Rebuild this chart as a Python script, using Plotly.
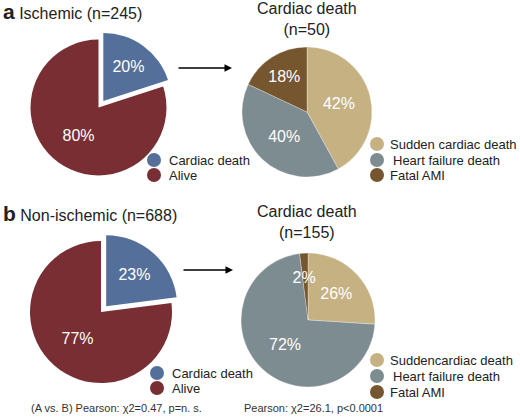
import plotly.graph_objects as go

W, H = 520, 420

# ---------------- data ----------------
outcome_labels = ["Cardiac death", "Alive"]
ischemic_values = [20, 80]
nonischemic_values = [23, 77]

cause_labels_a = ["Sudden cardiac death", "Heart failure death", "Fatal AMI"]
cause_labels_b = ["Suddencardiac death", "Heart failure death", "Fatal AMI"]
ischemic_cause_values = [42, 40, 18]
nonischemic_cause_values = [26, 72, 2]

outcome_colors = ["#546f99", "#782e33"]
cause_colors = ["#c6b183", "#7d8c90", "#75562f"]

panel_titles = ["Ischemic (n=245)", "Non-ischemic (n=688)"]
panel_letters = ["a", "b"]
cause_titles = ["Cardiac death<br>(n=50)", "Cardiac death<br>(n=155)"]
footers = ["(A vs. B) Pearson: χ2=0.47, p=n. s.", "Pearson: χ2=26.1, p&lt;0.0001"]

FONT = "Liberation Sans, Arial, sans-serif"


def px(x):
    return x / W


def py(y):
    return 1 - y / H


def dom(cx, cy, r, pull):
    h = r * (1 + pull)
    return dict(x=[px(cx - h), px(cx + h)], y=[py(cy + h), py(cy - h)])


fig = go.Figure()

pie_common = dict(
    sort=False,
    direction="clockwise",
    rotation=0,
    textposition="inside",
    insidetextorientation="horizontal",
    textfont=dict(color="white", size=16, family=FONT),
    showlegend=False,
    hoverinfo="label+percent",
)

fig.add_trace(go.Pie(labels=outcome_labels, values=ischemic_values,
                     marker=dict(colors=outcome_colors, line=dict(color="white", width=0)),
                     texttemplate="%{value}%",
                     pull=[0.12, 0], domain=dom(98.5, 107.5, 68, 0.12), **pie_common))
fig.add_trace(go.Pie(labels=cause_labels_a, values=ischemic_cause_values,
                     marker=dict(colors=cause_colors, line=dict(color="rgba(255,255,255,0.5)", width=0.6)),
                     texttemplate="%{value}%",
                     domain=dom(307, 112, 65, 0), **pie_common))
fig.add_trace(go.Pie(labels=outcome_labels, values=nonischemic_values,
                     marker=dict(colors=outcome_colors, line=dict(color="white", width=0)),
                     texttemplate="%{value}%",
                     pull=[0.11, 0], domain=dom(101, 312, 71, 0.11), **pie_common))
fig.add_trace(go.Pie(labels=cause_labels_b, values=nonischemic_cause_values,
                     marker=dict(colors=cause_colors, line=dict(color="rgba(255,255,255,0.5)", width=0.6)),
                     texttemplate=["%{value}%", "%{value}%", "&nbsp;<br>&nbsp;<br>%{value}%"],
                     domain=dom(308, 320, 67, 0), **pie_common))

annotations = []
shapes = []

# panel titles
for letter, title, y in zip(panel_letters, panel_titles, [11, 213]):
    annotations.append(dict(
        x=px(1), y=py(y), xref="paper", yref="paper", xanchor="left", yanchor="middle",
        text=f"<b><span style='font-size:21px'>{letter}</span></b> {title}",
        showarrow=False, font=dict(size=16, family=FONT, color="#222")))

for title, y in zip(cause_titles, [19, 222]):
    annotations.append(dict(
        x=px(307), y=py(y), xref="paper", yref="paper", xanchor="center", yanchor="middle",
        text=title, showarrow=False, font=dict(size=16, family=FONT, color="#222")))

# arrows
for x0, x1, y in [(177, 232, 68), (182, 233, 270)]:
    annotations.append(dict(
        x=px(x1), y=py(y), xref="paper", yref="paper", ax=-(x1 - x0), ay=0,
        text="", showarrow=True, arrowhead=2, arrowsize=1, arrowwidth=1.5, arrowcolor="black"))

# legends (circle keys + text)
legend_specs = [
    (outcome_labels, outcome_colors, 154, 167, [160, 175], [0, 0]),
    (cause_labels_a, cause_colors, 377, 388, [144, 160, 175], [0, 3, 0]),
    (outcome_labels, outcome_colors, 157, 170, [373, 388], [0, 0]),
    (cause_labels_b, cause_colors, 377, 388, [360, 376, 392], [0, 3, 0]),
]
for labels, colors, cx, tx, ys, dx in legend_specs:
    for lab, col, y, d in zip(labels, colors, ys, dx):
        shapes.append(dict(type="circle", xref="paper", yref="paper",
                           xsizemode="pixel", ysizemode="pixel",
                           xanchor=px(cx), yanchor=py(y),
                           x0=-7, x1=7, y0=-7, y1=7,
                           fillcolor=col, line=dict(width=0)))
        annotations.append(dict(
            x=px(tx + d), y=py(y), xref="paper", yref="paper", xanchor="left", yanchor="middle",
            text=lab, showarrow=False, font=dict(size=13, family=FONT, color="#222")))

# footers
for txt, x in zip(footers, [29, 242]):
    annotations.append(dict(
        x=px(x), y=py(408), xref="paper", yref="paper", xanchor="left", yanchor="middle",
        text=txt, showarrow=False, font=dict(size=11, family=FONT, color="#333")))

fig.update_layout(
    width=W, height=H,
    margin=dict(l=0, r=0, t=0, b=0),
    paper_bgcolor="white", plot_bgcolor="white",
    annotations=annotations, shapes=shapes,
    font=dict(family=FONT),
    uniformtext=dict(minsize=16, mode="show"),
)

fig.write_html("out.html",
               config={"displayModeBar": False},
               post_script="document.body.style.margin='0';document.body.style.overflow='hidden';")
